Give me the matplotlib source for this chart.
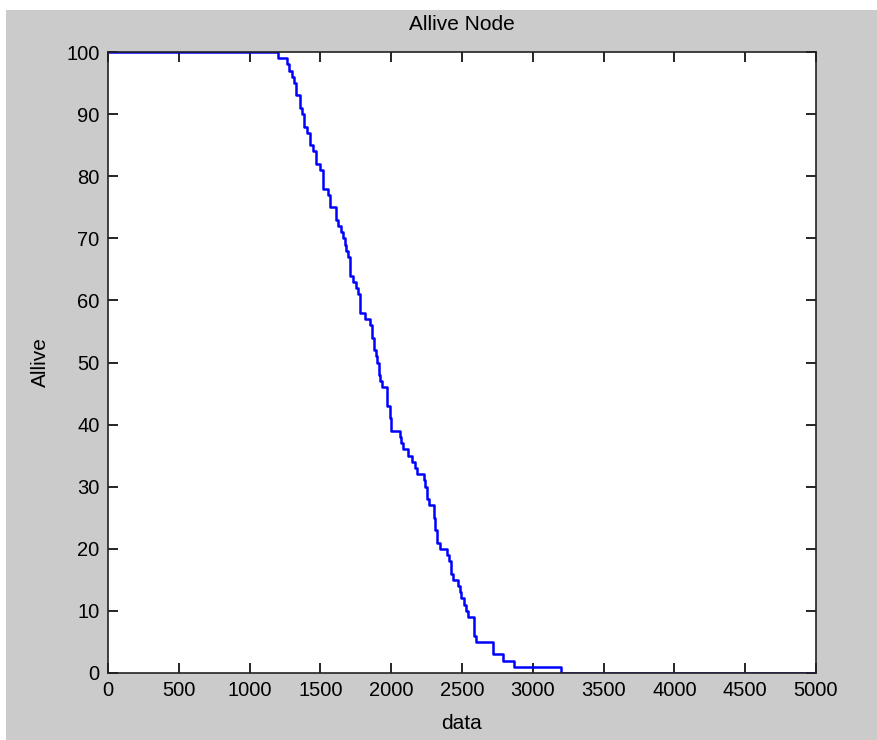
import matplotlib
matplotlib.use("Agg")
import matplotlib.pyplot as plt
from matplotlib.patches import Rectangle

# death times (rounds) and number of alive nodes after each step
rounds = [0, 1204, 1261, 1277, 1301, 1312, 1331, 1359, 1371, 1383, 1402, 1430, 1449,
          1470, 1496, 1518, 1552, 1571, 1612, 1626, 1642, 1658, 1672, 1684, 1693,
          1708, 1729, 1753, 1767, 1783, 1814, 1847, 1861, 1877, 1894, 1901, 1912,
          1924, 1936, 1972, 1990, 2002, 2060, 2071, 2082, 2117, 2148, 2167, 2184,
          2230, 2242, 2254, 2266, 2301, 2308, 2325, 2347, 2391, 2407, 2419, 2435,
          2470, 2484, 2496, 2513, 2525, 2541, 2583, 2599, 2717, 2788, 2866, 3196, 5000]
alive = [100, 99, 98, 97, 96, 95, 93, 91, 90, 88, 87, 85, 84,
         82, 81, 78, 77, 75, 73, 72, 71, 70, 69, 68, 67,
         64, 63, 62, 61, 58, 57, 56, 54, 52, 51, 50, 48,
         47, 46, 43, 41, 39, 38, 37, 36, 35, 34, 33, 32,
         31, 30, 28, 27, 25, 23, 21, 20, 19, 18, 16, 15,
         14, 13, 12, 11, 10, 9, 6, 5, 3, 2, 1, 0, 0]

xticks = [0, 500, 1000, 1500, 2000, 2500, 3000, 3500, 4000, 4500, 5000]
yticks = [0, 10, 20, 30, 40, 50, 60, 70, 80, 90, 100]

plt.rcParams['font.family'] = ['Liberation Sans', 'DejaVu Sans']

W, H = 877, 740
fig = plt.figure(figsize=(W / 100, H / 100), dpi=100, facecolor='#cbcbcb')
# white margins of the screenshot
fig.patches.append(Rectangle((0, 1 - 10 / H), 1, 10 / H, transform=fig.transFigure,
                             facecolor='white', edgecolor='none', zorder=0))
fig.patches.append(Rectangle((0, 0), 6 / W, 1, transform=fig.transFigure,
                             facecolor='white', edgecolor='none', zorder=0))

ax = fig.add_axes([108 / W, 1 - 673 / H, (816 - 108) / W, (673 - 52) / H])
ax.set_facecolor('white')
ax.step(rounds, alive, where='post', color='#0000ff', linewidth=1.8)

ax.set_xlim(0, 5000)
ax.set_ylim(0, 100)
ax.set_xticks(xticks)
ax.set_yticks(yticks)
ax.tick_params(direction='in', length=7, width=1.2, top=True, right=True,
               labelsize=14.5, pad=6, colors='black')
for s in ax.spines.values():
    s.set_linewidth(1.2)
    s.set_color('#222222')

ax.set_title('Allive Node', fontsize=15, pad=16)
ax.set_xlabel('data', fontsize=15, labelpad=10)
ax.set_ylabel('Allive', fontsize=15, labelpad=12)

fig.savefig('out.png', dpi=100, facecolor=fig.get_facecolor())
